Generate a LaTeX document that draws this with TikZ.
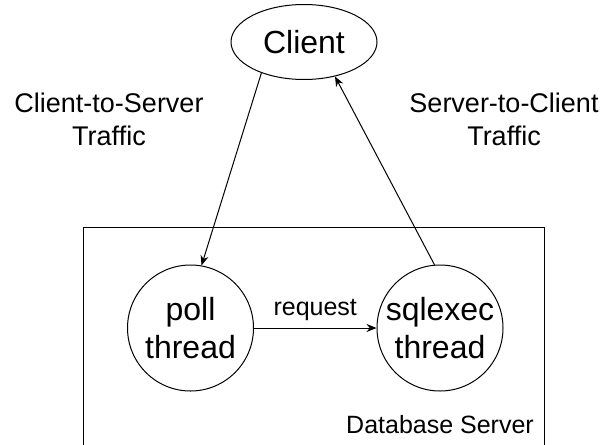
\documentclass[tikz,border=0pt]{standalone}
\usepackage{fontspec}
\setmainfont{Liberation Sans}
\usetikzlibrary{shapes.geometric,arrows.meta}

\begin{document}
\begin{tikzpicture}[x=1pt,y=-1pt,line width=1pt,  % 以像素为单位,y 轴向下
    bigtext/.style={font=\fontsize{32}{38}\selectfont},
    smalltext/.style={font=\fontsize{25}{30}\selectfont},
    trafficlabel/.style={font=\fontsize{27}{33}\selectfont, align=center},
    thread/.style={circle, draw, minimum size=126pt, inner sep=0pt, align=center, bigtext},
    flow/.style={-{Stealth[length=10pt,width=8pt]}}]

        \useasboundingbox (0,0) rectangle (604,444);

        % 绘制服务器外框(底边在画面以外)
        \draw (83,450) -- (83,227) -- (544,227) -- (544,450);
        \node[smalltext, anchor=base] (dbname) at (440,433) {Database Server};

        % 绘制客户端
        \node[ellipse, draw, minimum width=146pt, minimum height=75pt, inner sep=0pt, bigtext] (client) at (304,42) {Client};

        % 绘制两个线程
        \node[thread] (poll) at (190.5,328) {poll\\thread};
        \node[thread] (sqlexec) at (440,328) {sqlexec\\thread};

        % 绘制箭头
        \draw[flow] (client.216) -- (poll.80);  % 客户端到服务器
        \draw[flow] (sqlexec.95) -- (client.312);  % 服务器到客户端
        \draw[flow] (poll) -- node[above=3pt, smalltext] (req) {request} (sqlexec);

        % 标签
        \node[trafficlabel] (c2s) at (109,119) {Client-to-Server\\Traffic};
        \node[trafficlabel] (s2c) at (504,119) {Server-to-Client\\Traffic};

    \end{tikzpicture}
\end{document}
